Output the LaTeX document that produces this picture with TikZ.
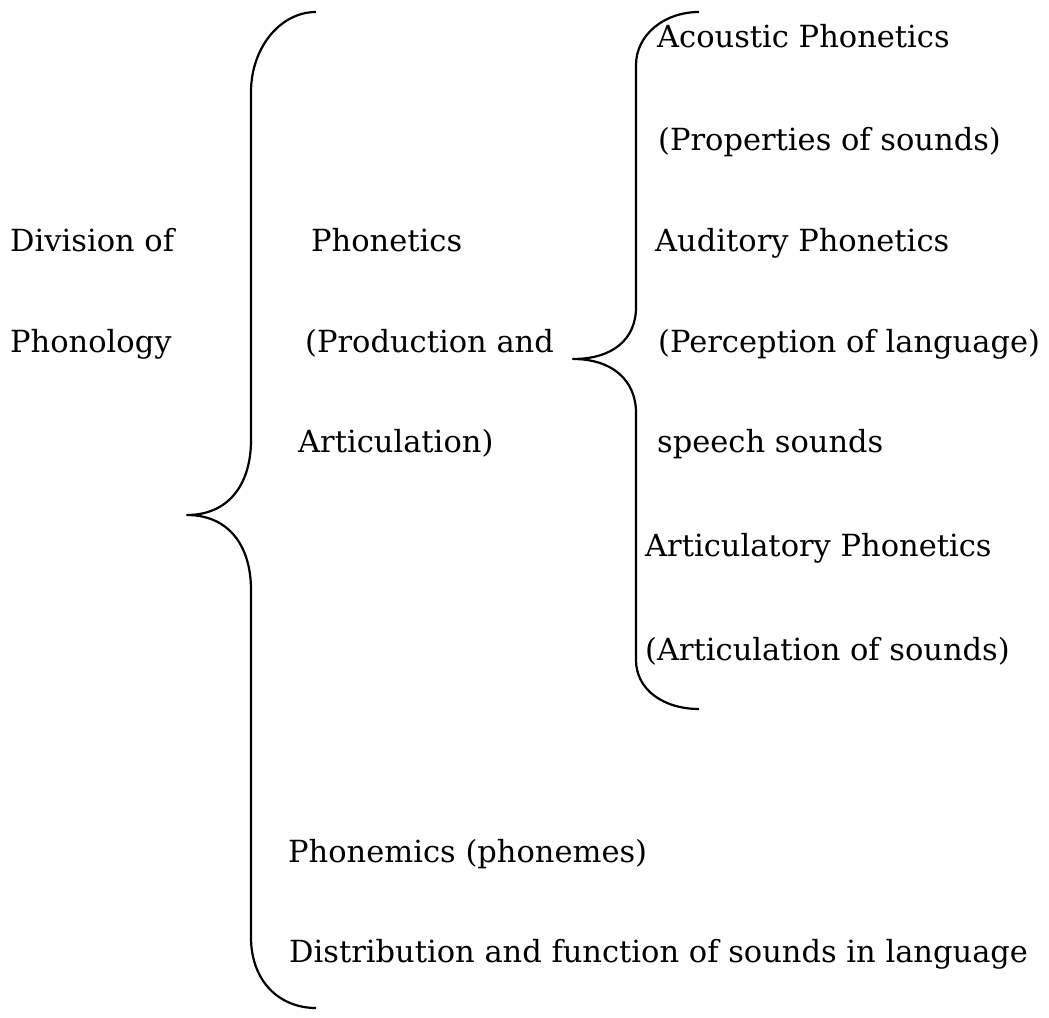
\documentclass[tikz,border=0pt]{standalone}
\usepackage{fontspec}
\setmainfont{DejaVu Serif}
\begin{document}
\begin{tikzpicture}[x=1pt,y=-1pt,
  lbl/.style={anchor=base west,inner sep=0pt,font=\fontsize{30.5}{36}\selectfont},
  bracepath/.style={line width=2.2pt,line join=round}]
\useasboundingbox (0,0) rectangle (1049,1017);
% left column
\node[lbl] (div) at (10,251) {Division of};
\node[lbl] (phon) at (10,352) {Phonology};
% middle column
\node[lbl] (ph) at (311,251) {Phonetics};
\node[lbl] (prod) at (305,352) {(Production and};
\node[lbl] (art) at (298,452) {Articulation)};
\node[lbl] (pm) at (288,862) {Phonemics (phonemes)};
\node[lbl] (dist) at (289,962) {Distribution and function of sounds in language};
% right column
\node[lbl] (ac) at (657,47) {Acoustic Phonetics};
\node[lbl] (prop) at (658,150) {(Properties of sounds)};
\node[lbl] (aud) at (655,251) {Auditory Phonetics};
\node[lbl] (perc) at (658,352) {(Perception of language)};
\node[lbl] (sp) at (657,452) {speech sounds};
\node[lbl] (artp) at (645,556) {Articulatory Phonetics};
\node[lbl] (arts) at (645,660) {(Articulation of sounds)};
% big brace
\draw[bracepath] (316,12) .. controls (280,12) and (251,48) .. (251,92)
  -- (251,440) .. controls (251,485) and (228,515) .. (187,515)
  .. controls (228,515) and (251,545) .. (251,590)
  -- (251,937) .. controls (251,982) and (280,1008) .. (316,1008);
% small brace
\draw[bracepath] (699,12) .. controls (664,12) and (636,35) .. (636,65)
  -- (636,307) .. controls (636,340) and (612,359) .. (573,359)
  .. controls (612,359) and (636,380) .. (636,413)
  -- (636,660) .. controls (636,690) and (664,709) .. (699,709);
\end{tikzpicture}
\end{document}
